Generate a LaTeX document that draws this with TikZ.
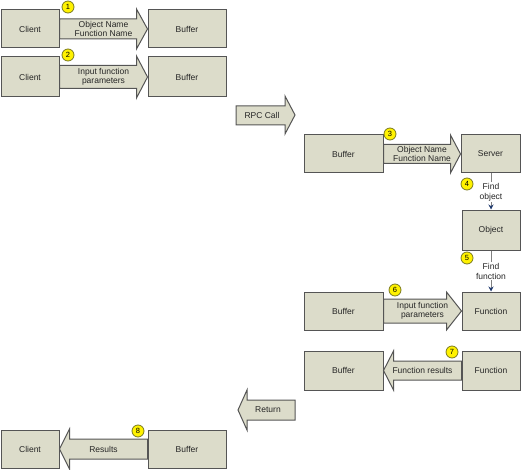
\documentclass[tikz,border=0pt]{standalone}
\usepackage{fontspec}
\setmainfont{Liberation Sans}
\usetikzlibrary{calc,arrows.meta}
\definecolor{boxfill}{HTML}{DCDCCA}
\definecolor{boxline}{HTML}{555555}
\definecolor{tipblue}{HTML}{1F3A6E}
\definecolor{numline}{HTML}{7A7A20}
\tikzset{
  box/.style={draw=boxline, fill=boxfill, line width=1pt, inner sep=0pt,
    font=\fontsize{8.5}{10}\selectfont, text=black!85},
  barrow/.style={draw=boxline, fill=boxfill, line width=1pt, line join=miter},
  atext/.style={font=\fontsize{8.5}{9.5}\selectfont, align=center, inner sep=0pt, text=black!85},
  num/.style={circle, draw=numline, fill=yellow, line width=0.8pt, minimum size=12pt,
    inner sep=0pt, font=\fontsize{7.5}{8}\selectfont},
  conn/.style={draw=gray, line width=0.8pt, -{Stealth[length=5pt,width=5pt,color=tipblue]}},
  clabel/.style={fill=white, font=\fontsize{8.5}{10}\selectfont, align=center, inner sep=1pt, text=black!85}
}
% #1 start point, #2 tip point, #3 head base offset from tip (signed), #4 shaft half, #5 head half
\newcommand\blockarr[5]{%
  \filldraw[barrow] let \p1=(#1), \p2=(#2) in
    (\x1,\y2+#4pt) -- (\x2+#3pt,\y2+#4pt) -- (\x2+#3pt,\y2+#5pt) -- (\x2,\y2)
    -- (\x2+#3pt,\y2-#5pt) -- (\x2+#3pt,\y2-#4pt) -- (\x1,\y2-#4pt) -- cycle;}
\begin{document}
\begin{tikzpicture}[x=1pt,y=-1pt]
\useasboundingbox (0,0) rectangle (521,470);
% row 1
\node[box, minimum width=58pt, minimum height=38pt] (c1) at (30,29) {Client};
\node[box, minimum width=78pt, minimum height=38pt] (b1) at (187,29) {Buffer};
\blockarr{c1.east}{b1.west}{-11}{10}{20}
\node[atext] (t1) at ($(c1.east)!0.5!(b1.west)$) {Object Name\\Function Name};
\node[num] (n1) at (68,7) {1};
% row 2
\node[box, minimum width=58pt, minimum height=40pt] (c2) at (30,77) {Client};
\node[box, minimum width=78pt, minimum height=40pt] (b2) at (187,77) {Buffer};
\blockarr{c2.east}{b2.west}{-11}{11.5}{21}
\node[atext] (t2) at ($(c2.east)!0.5!(b2.west)$) {Input function\\parameters};
\node[num] (n2) at (68,55) {2};
% RPC call
\filldraw[barrow] (236,106) -- (285,106) -- (285,96) -- (295,115) -- (285,134) -- (285,125) -- (236,125) -- cycle;
\node[atext] (rpc) at (262,115) {RPC Call};
% row 3
\node[box, minimum width=79pt, minimum height=38pt] (b3) at (343.5,154) {Buffer};
\node[box, minimum width=59pt, minimum height=38pt] (srv) at (490.5,154) {Server};
\blockarr{b3.east}{srv.west}{-10}{9.5}{19}
\node[atext] (t3) at ($(b3.east)!0.5!(srv.west)$) {Object Name\\Function Name};
\node[num] (n3) at (390,134) {3};
% object
\node[box, minimum width=58pt, minimum height=40pt] (obj) at (491,230) {Object};
\draw[conn] (srv.south -| obj.north) -- (obj.north);
\node[clabel] (l4) at (491,192) {Find\\object};
\node[num] (n4) at (467,184) {4};
% function
\node[box, minimum width=58pt, minimum height=38pt] (fn6) at (491,311) {Function};
\draw[conn] (obj.south) -- (fn6.north);
\node[clabel] (l5) at (491,271) {Find\\function};
\node[num] (n5) at (467,258) {5};
% row 6
\node[box, minimum width=79pt, minimum height=38pt] (b6) at (343.5,311) {Buffer};
\blockarr{b6.east}{fn6.west}{-15}{12}{19}
\node[atext] (t6) at ($(b6.east)!0.5!(fn6.west)$) {Input function\\parameters};
\node[num] (n6) at (395,290) {6};
% row 7
\node[box, minimum width=79pt, minimum height=39pt] (b7) at (343.5,370.5) {Buffer};
\node[box, minimum width=58pt, minimum height=39pt] (fn7) at (491,370.5) {Function};
\blockarr{fn7.west}{b7.east}{10}{9.5}{19.5}
\node[atext] (t7) at ($(b7.east)!0.5!(fn7.west)$) {Function results};
\node[num] (n7) at (452,352) {7};
% return
\filldraw[barrow] (295,400) -- (247,400) -- (247,390) -- (238,410) -- (247,430) -- (247,420) -- (295,420) -- cycle;
\node[atext] (ret) at (268,410) {Return};
% row 8
\node[box, minimum width=58pt, minimum height=38pt] (c8) at (30,449) {Client};
\node[box, minimum width=78pt, minimum height=38pt] (b8) at (187,449) {Buffer};
\blockarr{b8.west}{c8.east}{10}{10}{20}
\node[atext] (t8) at ($(c8.east)!0.5!(b8.west)$) {Results};
\node[num] (n8) at (138,431) {8};
\end{tikzpicture}
\end{document}
